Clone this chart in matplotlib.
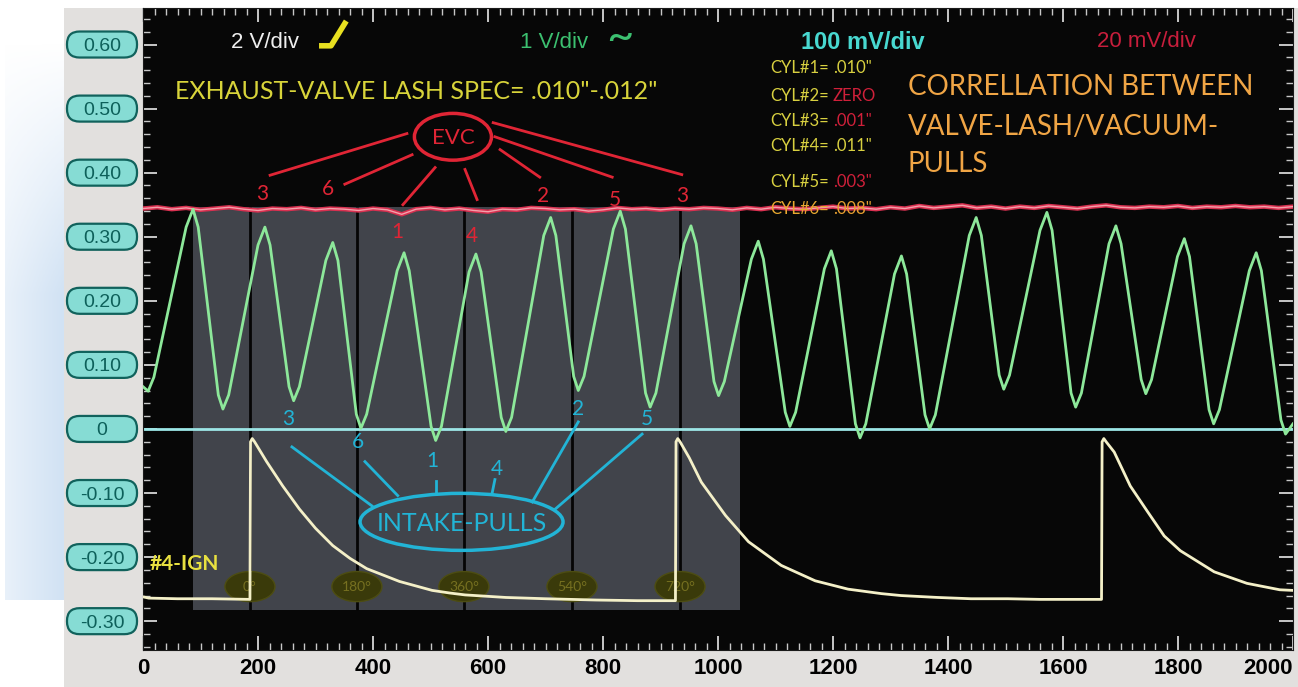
"""
示波器截图复刻：气门间隙与进气真空脉冲的对应关系
"""

import numpy as np
import matplotlib
matplotlib.use("Agg")
import matplotlib.pyplot as plt
from matplotlib.patches import Rectangle, Ellipse, FancyBboxPatch
from matplotlib.ticker import MultipleLocator

plt.rcParams['font.family'] = ['Lato', 'DejaVu Sans']
ARIAL = ['Liberation Sans', 'DejaVu Sans']

# 坐标轴刻度
x_ticks = [0, 200, 400, 600, 800, 1000, 1200, 1400, 1600, 1800, 2000]
y_ticks = [-0.3, -0.2, -0.1, 0.0, 0.1, 0.2, 0.3, 0.4, 0.5, 0.6]
y_tick_labels = ["-0.30", "-0.20", "-0.10", "0", "0.10", "0.20", "0.30", "0.40", "0.50", "0.60"]

# 绿色通道（1 V/div）：峰、谷及其肩部
green_t = [0, 9, 19, 75, 87, 96, 131, 139, 149, 200, 212, 221, 254, 262, 272,
           318, 330, 339, 371, 379, 389, 442, 454, 463, 501, 509, 519,
           567, 579, 588, 623, 631, 641, 697, 709, 718, 749, 757, 767,
           818, 830, 839, 874, 882, 892, 941, 953, 962, 993, 1001, 1011,
           1058, 1070, 1079, 1117, 1125, 1135, 1185, 1197, 1206, 1239, 1247, 1257,
           1307, 1319, 1328, 1360, 1368, 1378, 1437, 1449, 1458, 1489, 1497, 1507,
           1560, 1572, 1581, 1614, 1622, 1632, 1680, 1692, 1701, 1736, 1744, 1754,
           1799, 1811, 1820, 1854, 1862, 1872, 1924, 1936, 1945, 1979, 1987, 2000]
green_v = [0.066, 0.059, 0.081, 0.315, 0.343, 0.315, 0.053, 0.031, 0.053,
           0.287, 0.315, 0.287, 0.066, 0.044, 0.066, 0.263, 0.291, 0.263,
           0.023, 0.001, 0.023, 0.247, 0.275, 0.247, 0.004, -0.018, 0.004,
           0.245, 0.273, 0.245, 0.018, -0.004, 0.018, 0.302, 0.330, 0.302,
           0.082, 0.060, 0.082, 0.312, 0.340, 0.312, 0.056, 0.034, 0.056,
           0.289, 0.317, 0.289, 0.074, 0.052, 0.074, 0.265, 0.293, 0.265,
           0.026, 0.004, 0.026, 0.250, 0.278, 0.250, 0.008, -0.014, 0.008,
           0.242, 0.270, 0.242, 0.022, 0.000, 0.022, 0.302, 0.330, 0.302,
           0.084, 0.062, 0.084, 0.310, 0.338, 0.310, 0.056, 0.034, 0.056,
           0.289, 0.317, 0.289, 0.077, 0.055, 0.077, 0.269, 0.297, 0.269,
           0.030, 0.008, 0.030, 0.247, 0.275, 0.247, 0.014, -0.008, 0.008]

# 红色通道（20 mV/div），每 25 个单位读一次
red_t = list(range(0, 2001, 25))
red_v = [0.344, 0.346, 0.343, 0.345, 0.342, 0.344, 0.346, 0.343, 0.341, 0.344,
         0.343, 0.345, 0.342, 0.344, 0.343, 0.341, 0.344, 0.342, 0.335, 0.343,
         0.345, 0.342, 0.344, 0.341, 0.339, 0.343, 0.342, 0.345, 0.344, 0.342,
         0.343, 0.340, 0.342, 0.345, 0.343, 0.344, 0.342, 0.344, 0.343, 0.345,
         0.344, 0.342, 0.345, 0.343, 0.346, 0.344, 0.343, 0.345, 0.347, 0.344,
         0.345, 0.343, 0.346, 0.344, 0.348, 0.345, 0.347, 0.349, 0.345, 0.347,
         0.344, 0.347, 0.345, 0.348, 0.346, 0.344, 0.347, 0.349, 0.346, 0.345,
         0.347, 0.346, 0.348, 0.345, 0.347, 0.346, 0.348, 0.346, 0.347, 0.345,
         0.347]

# 点火信号（2 V/div）
ign_t = [0, 10, 60, 120, 186, 187, 190, 194, 215, 243, 272, 300, 330, 360, 389,
         446, 503, 533, 560, 631, 700, 788, 860, 926, 927, 930, 934, 950, 971,
         1013, 1053, 1110, 1169, 1226, 1284, 1318, 1382, 1440, 1504, 1560, 1620,
         1667, 1668, 1671, 1675, 1689, 1717, 1747, 1776, 1804, 1863, 1920, 1977, 2000]
ign_v = [-0.262, -0.264, -0.265, -0.265, -0.266, -0.020, -0.015, -0.020, -0.051,
         -0.089, -0.125, -0.155, -0.182, -0.202, -0.218, -0.238, -0.252, -0.256,
         -0.259, -0.263, -0.265, -0.267, -0.268, -0.268, -0.020, -0.015, -0.020,
         -0.045, -0.083, -0.135, -0.176, -0.213, -0.237, -0.250, -0.257, -0.260,
         -0.263, -0.265, -0.265, -0.266, -0.266, -0.266, -0.020, -0.015, -0.020,
         -0.036, -0.089, -0.129, -0.167, -0.190, -0.223, -0.241, -0.251, -0.252]

# 曲轴角度标记
crank_t = [186, 372, 558, 746, 934]
crank_labels = ["0°", "180°", "360°", "540°", "720°"]

# 各缸间隙
cyl_names = ["CYL#1=", "CYL#2=", "CYL#3=", "CYL#4=", "CYL#5=", "CYL#6="]
cyl_values = ['.010"', "ZERO", '.001"', '.011"', '.003"', '.008"']

fig = plt.figure(figsize=(12.98, 6.87), dpi=100)
fig.patch.set_facecolor("white")

# 背景：左侧标签灰条 + 底部灰条
fig.add_artist(Rectangle((64 / 1298, 0), 1 - 64 / 1298, 679 / 687,
                         transform=fig.transFigure, fc="#e2e0de", ec="none", zorder=0))
# 左侧浅蓝渐变
bg = fig.add_axes([5 / 1298, 87 / 687, 59 / 1298, 560 / 687], zorder=0)
gy = np.linspace(0, 1, 100)[:, None]
gx = np.linspace(0, 1, 40)[None, :]
rgba = np.zeros((100, 40, 4))
rgba[..., 0] = 0.82
rgba[..., 1] = 0.89
rgba[..., 2] = 0.96
rgba[..., 3] = np.clip(gy * 2.2, 0, 1) * (0.5 + 0.5 * gx)
bg.imshow(rgba, aspect="auto", origin="upper")
bg.axis("off")

ax = fig.add_axes([143 / 1298, 37 / 687, 1150 / 1298, 642 / 687])
ax.set_facecolor("#070707")
ax.set_xlim(0, 2000)
ax.set_ylim(-0.345, 0.657)
for sp in ax.spines.values():
    sp.set_color("#1a1a1a")

ax.set_xticks(x_ticks)
ax.set_xticklabels([str(v) for v in x_ticks], fontfamily=ARIAL, fontweight="bold", fontsize=16)
ax.get_xticklabels()[-1].set_horizontalalignment("right")
ax.set_yticks(y_ticks)
ax.set_yticklabels(y_tick_labels, fontfamily=ARIAL, fontsize=14)
for lab in ax.get_yticklabels():
    lab.set_horizontalalignment("center")
ax.xaxis.set_minor_locator(MultipleLocator(20))
ax.yaxis.set_minor_locator(MultipleLocator(0.02))
ax.tick_params(which="both", direction="in", top=True, right=True, color="#c8c8c8")
ax.tick_params(which="major", length=10, width=1.4)
ax.tick_params(which="minor", length=5, width=1.0)
ax.tick_params(axis="x", labelcolor="black", pad=6)
ax.tick_params(axis="y", labelcolor="#0d605a", pad=29.5)

# y 轴标签的圆角框
for v in y_ticks:
    ax.add_patch(FancyBboxPatch((-0.0661, v - 0.0203), 0.0609, 0.0406,
                                boxstyle="round,pad=0,rounding_size=0.0110",
                                mutation_aspect=1150 / 641,
                                transform=ax.get_yaxis_transform(),
                                fc="#86dcd4", ec="#11625c", lw=1.6, clip_on=False, zorder=1))

# 灰色半透明框 + 曲轴角度竖线
ax.add_patch(Rectangle((87, -0.283), 951, 0.629, fc="#8a90a0", ec="none", alpha=0.45, zorder=1))
ax.vlines(crank_t, -0.283, 0.346, colors="#050505", lw=2, zorder=1.5)
for t, lab in zip(crank_t, crank_labels):
    ax.add_patch(Ellipse((t, -0.246), 87, 0.047, fc="#3a3a0a", ec="#4d4d12", lw=1, zorder=2))
    ax.text(t, -0.247, lab, color="#767020", fontsize=10, ha="center", va="center", zorder=2.5)

# 波形
ax.axhline(0, color="#9ce6e6", lw=2, zorder=2)
ax.plot(red_t, red_v, color="#d83050", lw=3.2, zorder=3)
ax.plot(red_t, red_v, color="#f3a0aa", lw=1.0, zorder=3.1)
ax.plot(green_t, green_v, color="#8de89a", lw=2.0, zorder=4)
ax.plot(ign_t, ign_v, color="#f4f0c8", lw=2.0, zorder=4)

# 顶部通道标注
ax.text(213, 0.603, "2 V/div", color="#eeeeee", fontfamily=ARIAL, fontsize=16,
        ha="center", va="center")
ax.plot([311, 327, 351], [0.598, 0.598, 0.633], color="#e8e020", lw=4, zorder=5)
ax.text(715, 0.603, "1 V/div", color="#3cc070", fontfamily=ARIAL, fontsize=16,
        ha="center", va="center")
ax.text(829, 0.610, "~", color="#3cc070", fontsize=34, ha="center", va="center")
ax.text(1252, 0.603, "100 mV/div", color="#48d8d0", fontfamily=ARIAL,
        fontsize=17, fontweight="bold", ha="center", va="center")
ax.text(1745, 0.604, "20 mV/div", color="#c81e3c", fontfamily=ARIAL, fontsize=16,
        ha="center", va="center")

ax.text(56, 0.526, 'EXHAUST-VALVE LASH SPEC= .010"-.012"', color="#d8d43a", fontsize=18,
        ha="left", va="center")
for yy, line in zip([0.533, 0.472, 0.413], ["CORRELLATION BETWEEN", "VALVE-LASH/VACUUM-", "PULLS"]):
    ax.text(1330, yy, line, color="#f0a545", fontsize=20, ha="left", va="center")

cyl_y = [0.564, 0.519, 0.480, 0.441, 0.385, 0.343]
name_colors = ["#d8d040", "#d8d040", "#d8d040", "#d8d040", "#d8d040", "#e8a830"]
value_colors = ["#d8d040", "#d0203a", "#d0203a", "#d8d040", "#d0203a", "#e8a030"]
for yy, nm, val, nc, vc in zip(cyl_y, cyl_names, cyl_values, name_colors, value_colors):
    ax.text(1090, yy, nm, color=nc, fontsize=12, ha="left", va="center", zorder=6)
    ax.text(1200, yy, val, color=vc, fontsize=12, ha="left", va="center", zorder=6)

# EVC 标注（红）
evc_red = "#e02535"
ax.add_patch(Ellipse((539, 0.456), 134, 0.073, fc="none", ec=evc_red, lw=2.5, zorder=5))
ax.text(539, 0.454, "EVC", color=evc_red, fontsize=16, ha="center", va="center", zorder=5)
evc_lines = [((459, 0.461), (221, 0.396)), ((468, 0.428), (351, 0.382)),
             ((508, 0.408), (452, 0.350)), ((560, 0.405), (581, 0.358)),
             ((621, 0.436), (690, 0.393)), ((612, 0.456), (816, 0.393)),
             ((609, 0.478), (937, 0.397))]
for (x0, y0), (x1, y1) in evc_lines:
    ax.plot([x0, x1], [y0, y1], color=evc_red, lw=2, zorder=5)
evc_nums = [("3", 207, 0.366), ("6", 322, 0.374), ("1", 443, 0.308), ("4", 572, 0.301),
            ("2", 696, 0.363), ("5", 821, 0.358), ("3", 937, 0.363)]
for s, xx, yy in evc_nums:
    ax.text(xx, yy, s, color=evc_red, fontsize=15, ha="center", va="center", zorder=5)

# 进气脉冲标注（青）
cyan = "#22b4d6"
ax.add_patch(Ellipse((554, -0.145), 353, 0.089, fc="none", ec=cyan, lw=2.5, zorder=5))
ax.text(554, -0.147, "INTAKE-PULLS", color=cyan, fontsize=18, ha="center", va="center", zorder=5)
intake_lines = [((259, -0.028), (398, -0.120)), ((386, -0.051), (443, -0.104)),
                ((510, -0.081), (510, -0.101)), ((612, -0.079), (607, -0.101)),
                ((757, 0.011), (677, -0.114)), ((868, -0.008), (717, -0.125))]
for (x0, y0), (x1, y1) in intake_lines:
    ax.plot([x0, x1], [y0, y1], color=cyan, lw=2, zorder=5)
intake_nums = [("3", 252, 0.016), ("6", 374, -0.020), ("1", 504, -0.050),
               ("4", 616, -0.062), ("2", 757, 0.031), ("5", 877, 0.016)]
for s, xx, yy in intake_nums:
    ax.text(xx, yy, s, color=cyan, fontsize=15, ha="center", va="center", zorder=5)

ax.text(12, -0.210, "#4-IGN", color="#e8e040", fontsize=15, fontweight="bold",
        ha="left", va="center", zorder=5)

fig.savefig("out.png", dpi=100, facecolor=fig.get_facecolor())
